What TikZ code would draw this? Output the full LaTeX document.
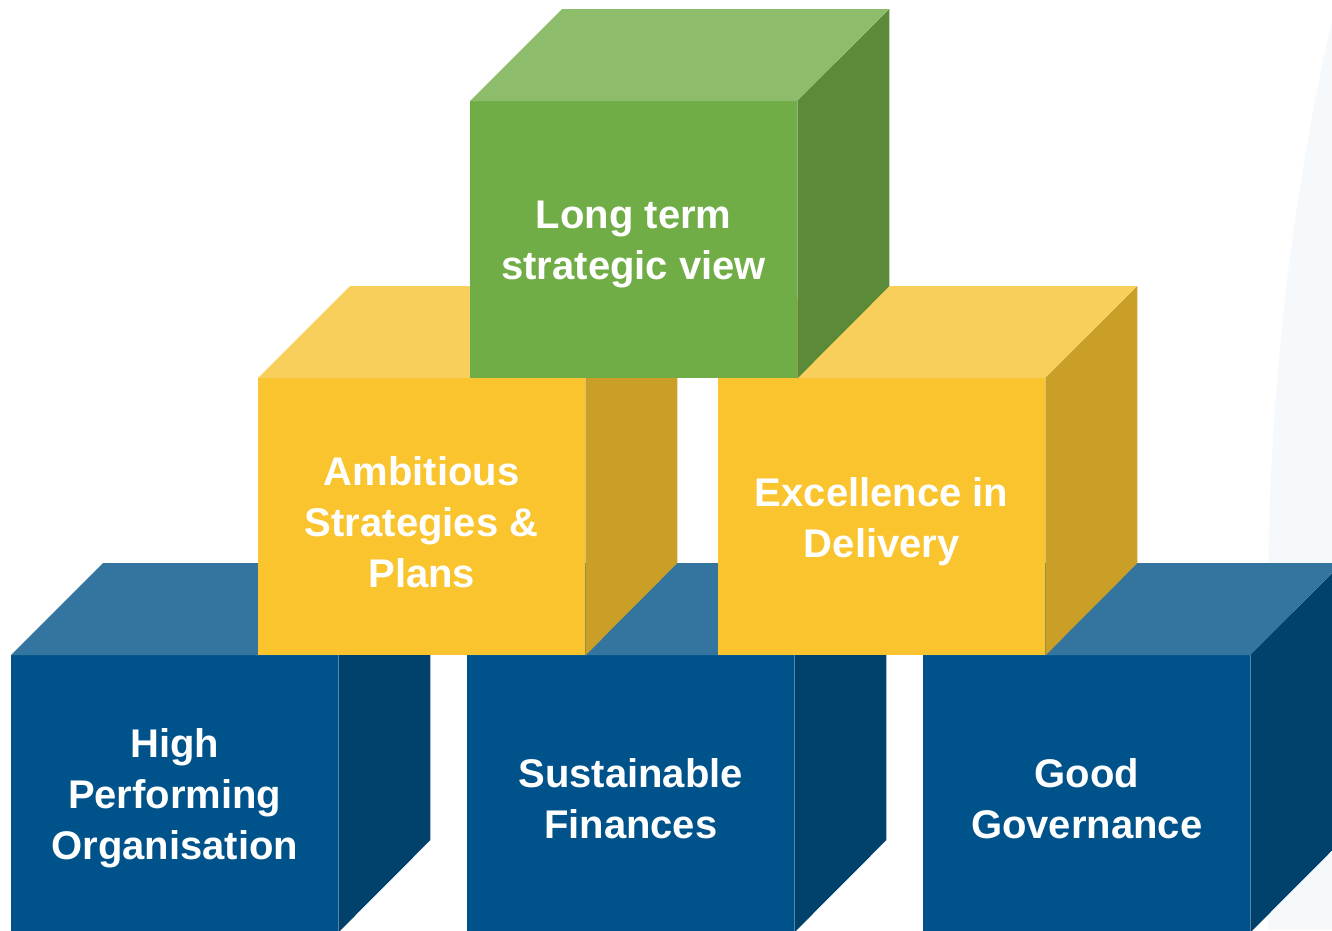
\documentclass[tikz,border=0pt]{standalone}
\usepackage{fontspec}
\setmainfont{Liberation Sans}
\usepackage{xcolor}

\definecolor{bluefront}{HTML}{00538A}
\definecolor{bluetop}{HTML}{33759F}
\definecolor{blueside}{HTML}{00426C}
\definecolor{yellowfront}{HTML}{F9C42E}
\definecolor{yellowtop}{HTML}{F9CF5B}
\definecolor{yellowside}{HTML}{C99F27}
\definecolor{greenfront}{HTML}{70AD47}
\definecolor{greentop}{HTML}{8DBD6B}
\definecolor{greenside}{HTML}{5B8B39}
\definecolor{bgtint}{HTML}{F6F9FB}

\begin{document}
\begin{tikzpicture}[x=1pt, y=-1pt,
face/.style={minimum width=327pt, minimum height=277pt, inner sep=0pt,
  anchor=north west},
caption/.style={align=center, text=white, inner sep=0pt,
  font=\fontsize{40}{51}\selectfont\bfseries},]
\useasboundingbox (0,0) rectangle (1332,930);
\clip (0,0) rectangle (1332,930);
\fill[bgtint] (1332,20) .. controls (1282,240) and (1266,450) .. (1268,640)
  -- (1268,930) -- (1332,930) -- cycle;
% bottom row first, then middle, then the top block
\foreach \x/\y/\c/\n/\t in {
  11/655/blue/hpo/{High\\Performing\\Organisation},
  467/655/blue/fin/{Sustainable\\Finances},
  923/655/blue/gov/{Good\\Governance},
  258/378/yellow/asp/{Ambitious\\Strategies \&\\Plans},
  718/378/yellow/del/{Excellence in\\Delivery},
  470/101/green/ltv/{Long term\\strategic view}}
{
  \node[face, fill=\c front] (\n) at (\x,\y) {};
  \fill[\c top] (\n.north west) -- ++(92,-92) -- ++(327,0) -- (\n.north east) -- cycle;
  \fill[\c side] (\n.north east) -- ++(92,-92) -- ++(0,277) -- (\n.south east) -- cycle;
  \node[caption] (\n-txt) at ([yshift=-5pt]\n.center) {\t};
}
\end{tikzpicture}
\end{document}
